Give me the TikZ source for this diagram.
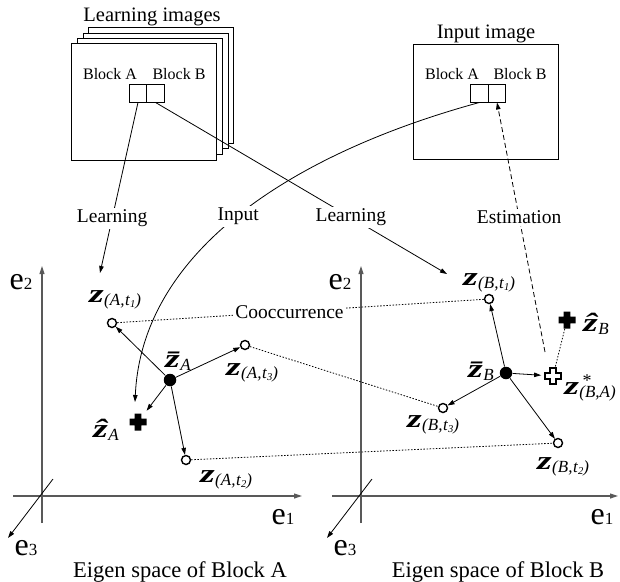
\documentclass[tikz,border=0pt]{standalone}
\usepackage{fontspec}
\setmainfont{Liberation Serif}
\usetikzlibrary{arrows.meta,calc}
\newcommand\fs[1]{\fontsize{#1}{#1}\selectfont}
\newcommand\zz{{\fs{26}\bfseries\itshape\scalebox{1.45}[1]{z}}}
\newcommand\zt[2]{\zz\kern0.5pt\raisebox{-3pt}{\fs{17}\itshape(#1,\kern0.5pt t\kern0.3pt\raisebox{-1.5pt}{\fs{10.5}#2})}}
\newcommand\zbar[1]{{\fs{26}\bfseries\itshape\scalebox{1.45}[1]{\={z}}}\kern0.5pt\raisebox{-3pt}{\fs{17}\itshape #1}}
\newcommand\zhat[1]{{\fs{26}\bfseries\itshape\scalebox{1.45}[1]{\^{z}}}\kern0.5pt\raisebox{-3pt}{\fs{17}\itshape #1}}
\newcommand\ee[1]{{\fs{32}e}{\fs{17}#1}}
\begin{document}
\begin{tikzpicture}[x=1pt,y=-1pt,line width=0.8pt,
  arr/.style={-{Triangle[length=7pt,width=4.5pt]}},
  opc/.style={circle,draw,line width=1.4pt,fill=white,minimum size=9pt,inner sep=0pt},
  fdot/.style={circle,fill,minimum size=12.5pt,inner sep=0pt},
  blk/.style={draw,line width=0.9pt,minimum width=17.5pt,minimum height=18pt,inner sep=0pt},
  framebox/.style={draw,fill=white,line width=1pt},
  lab/.style={font=\fs{19.5},fill=white,inner sep=2pt},
  hdr/.style={font=\fs{20.5},anchor=base},
  blab/.style={font=\fs{16},anchor=base},
  captxt/.style={font=\fs{22.5},anchor=base},
  axisA/.style={draw=black!65,line width=1.1pt,-{Triangle[length=8pt,width=5pt]}},
  axisC/.style={line width=0.8pt,-{Triangle[length=7pt,width=4.5pt]}},
  dotline/.style={dash pattern=on 1.5pt off 1.6pt,line width=0.8pt},
  dshline/.style={dash pattern=on 5pt off 3pt,line width=0.8pt},
  pnode/.style={minimum size=17pt,inner sep=0pt},
  plusF/.pic={\fill (-8.5,-3.3) rectangle (8.5,3.3) (-3.3,-8.5) rectangle (3.3,8.5);},
  plusO/.pic={\draw[line width=1.5pt,fill=white] (-7.8,-2.9) -- (-2.9,-2.9) -- (-2.9,-7.8) -- (2.9,-7.8) -- (2.9,-2.9) -- (7.8,-2.9) -- (7.8,2.9) -- (2.9,2.9) -- (2.9,7.8) -- (-2.9,7.8) -- (-2.9,2.9) -- (-7.8,2.9) -- cycle;}
]
\useasboundingbox (0,0) rectangle (620,581);

% ---- learning images stack
\draw[framebox] (88,27) rectangle (233,143);
\draw[framebox] (83,33) rectangle (228,148);
\draw[framebox] (77,38) rectangle (222,154);
\draw[framebox] (71,43) rectangle (216,160);
\node[hdr] (lhdr) at (152,21) {Learning images};
\node[blab] (lblA) at (110,79) {Block A};
\node[blab] (lblB) at (179,79) {Block B};
\node[blk] (lbA) at (138,93) {};
\node[blk] (lbB) at (155.5,93) {};

% ---- input image
\draw[framebox] (413,44) rectangle (558,159);
\node[hdr] (ihdr) at (486,38) {Input image};
\node[blab] (iblA) at (452,79) {Block A};
\node[blab] (iblB) at (520,79) {Block B};
\node[blk] (ibA) at (479.5,93) {};
\node[blk] (ibB) at (497,93) {};

% ---- axes
\draw[axisA] (42,523) -- (42,266);
\draw[axisA] (13,496) -- (302,496);
\draw[axisC] (53,479) -- (8,538);
\draw[axisA] (361,523) -- (361,266);
\draw[axisA] (332,496) -- (618,496);
\draw[axisC] (372,479) -- (327,538);
\node[anchor=base] (e2A) at (21,289) {\ee{2}};
\node[anchor=base] (e1A) at (283,524) {\ee{1}};
\node[anchor=base] (e3A) at (26,555) {\ee{3}};
\node[anchor=base] (e2B) at (340,289) {\ee{2}};
\node[anchor=base] (e1B) at (602,524) {\ee{1}};
\node[anchor=base] (e3B) at (345,555) {\ee{3}};
\node[captxt] (capA) at (180,577) {Eigen space of Block A};
\node[captxt] (capB) at (498,577) {Eigen space of Block B};

% ---- points, space A
\node[opc] (a1) at (112,323) {};
\node[opc] (a3) at (245,345) {};
\node[opc] (a2) at (186,460) {};
\node[fdot] (am) at (170,380) {};
\node[pnode] (ah) at (138,422) {};
\pic at (ah.center) {plusF};

% ---- points, space B
\node[opc] (b1) at (489,299) {};
\node[opc] (b3) at (443,408) {};
\node[opc] (b2) at (558,443) {};
\node[fdot] (bm) at (506,373) {};
\node[pnode] (bs) at (553,376) {};
\node[pnode] (bh) at (567,320) {};
\pic at (bh.center) {plusF};

% ---- free ends
\coordinate (lAend) at (100,273);
\coordinate (lBend) at (447,274);
\coordinate (inEnd) at (135,402);
\coordinate (estS) at (545,352);

% ---- cooccurrence dotted lines
\draw[dotline] (a1) -- node[lab,pos=0.47] (cooc) {Cooccurrence} (b1);
\draw[dotline] (a3) -- (b3);
\draw[dotline] (a2) -- (b2);
\draw[dotline] (bh) -- (bs);

% ---- arrows from means
\draw[arr] (am) -- (a1);
\draw[arr] (am) -- (a3);
\draw[arr] (am) -- (a2);
\draw[arr,shorten >=3pt] (am) -- (ah);
\draw[arr] (bm) -- (b1);
\draw[arr] (bm) -- (b3);
\draw[arr] (bm) -- (b2);
\draw[arr,shorten >=3pt] (bm) -- (bs);
\pic at (bs.center) {plusO};

% ---- learning / input / estimation connectors
\draw[arr] (lbA.south) -- node[lab,pos=0.68] (llA) {Learning} (lAend);
\draw[arr] (lbB.south) -- node[lab,pos=0.67] (llB) {Learning} (lBend);
\draw[arr] (ibA.south) .. controls (298,152) and (142,248) .. node[lab,pos=0.51] (inl) {Input} (inEnd);
\draw[dshline,arr] (estS) -- node[lab,pos=0.54] (estl) {Estimation} (ibB.south);

% ---- labels of points
\node (la1) at (115,300) {\zt{A}{1}};
\node (la3) at (252,373) {\zt{A}{3}};
\node (la2) at (226,480) {\zt{A}{2}};
\node (lam) at (178,361) {\zbar{A}};
\node (lah) at (106,430) {\zhat{A}};
\node (lb1) at (489,283) {\zt{B}{1}};
\node (lb3) at (433,425) {\zt{B}{3}};
\node (lb2) at (563,467) {\zt{B}{2}};
\node (lbm) at (481,371) {\zbar{B}};
\node (lbh) at (596,324) {\zhat{B}};
\node (lbs) at (590,392) {\zz\kern0.5pt\raisebox{-3pt}{\fs{17}\itshape(B,A)}};
\node (lbst) at (587,381) {\fs{18}*};
\end{tikzpicture}
\end{document}
